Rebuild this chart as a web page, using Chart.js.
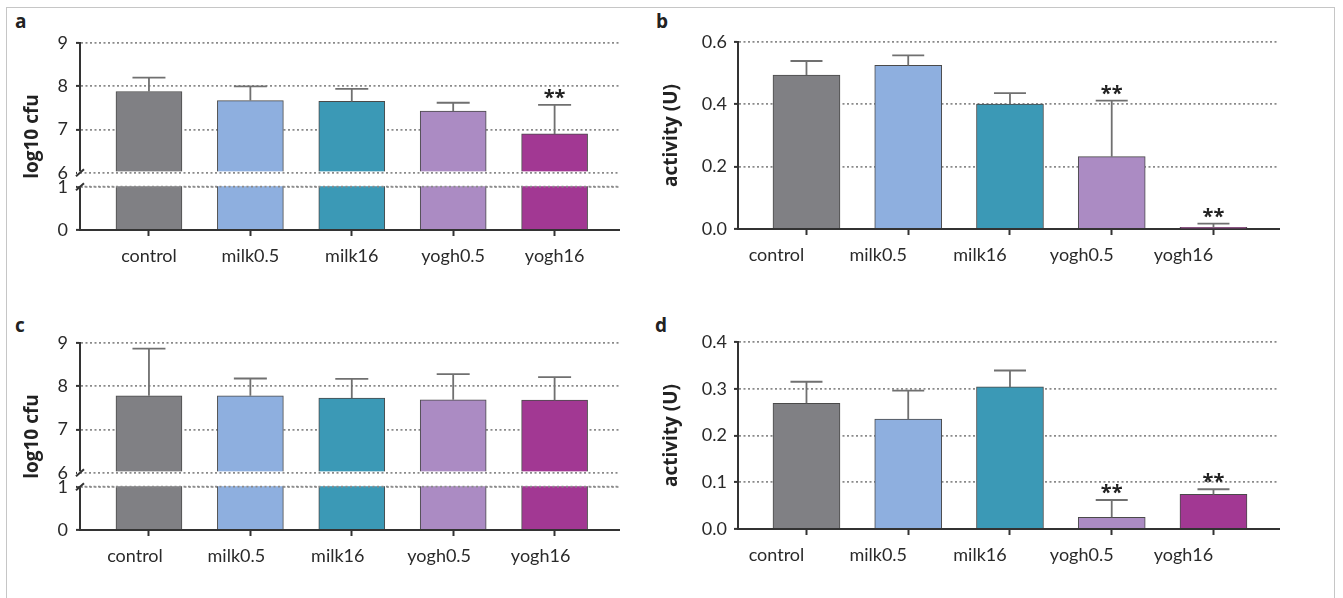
<!DOCTYPE html>
<html>
<head>
<meta charset="utf-8">
<script src="https://cdn.jsdelivr.net/npm/chart.js@4.4.1/dist/chart.umd.min.js"></script>
<style>
  html, body { margin: 0; padding: 0; background: #fff; }
  body { width: 1343px; height: 598px; position: relative; overflow: hidden; }
  #frame { position: absolute; left: 6px; top: 7px; width: 1327px; height: 640px; border: 1.5px solid #c6c6c6; border-bottom: none; }
  .panel { position: absolute; }
  .tag { position: absolute; font: bold 19px "Open Sans", sans-serif; color: #222; line-height: 19px; }
</style>
</head>
<body>
<div id="frame"></div>
<div class="tag" style="left:15px;top:12px">a</div>
<div class="tag" style="left:656px;top:12px">b</div>
<div class="tag" style="left:15px;top:316px">c</div>
<div class="tag" style="left:655px;top:316px">d</div>
<div class="panel" style="left:0;top:0"><canvas id="ca" width="640" height="295"></canvas></div>
<div class="panel" style="left:640px;top:0"><canvas id="cb" width="660" height="295"></canvas></div>
<div class="panel" style="left:0;top:300px"><canvas id="cc" width="640" height="295"></canvas></div>
<div class="panel" style="left:640px;top:300px"><canvas id="cd" width="660" height="295"></canvas></div>
<script>
const categories = ['control', 'milk0.5', 'milk16', 'yogh0.5', 'yogh16'];

// a: log10 cfu
const aMeans = [7.88, 7.67, 7.65, 7.43, 6.90];
const aErrs = [0.32, 0.33, 0.29, 0.19, 0.67];
const aStars = ['', '', '', '', '**'];

// b: activity (U)
const bMeans = [0.494, 0.525, 0.401, 0.232, 0.005];
const bErrs = [0.045, 0.032, 0.035, 0.180, 0.012];
const bStars = ['', '', '', '**', '**'];

// c: log10 cfu
const cMeans = [7.78, 7.78, 7.73, 7.69, 7.68];
const cErrs = [1.09, 0.40, 0.44, 0.59, 0.53];
const cStars = ['', '', '', '', ''];

// d: activity (U)
const dMeans = [0.269, 0.235, 0.304, 0.025, 0.074];
const dErrs = [0.046, 0.061, 0.035, 0.037, 0.011];
const dStars = ['', '', '', '**', '**'];

const cfuTicks = [0, 1, 6, 7, 8, 9];
const bTicks = [0, 0.2, 0.4, 0.6];
const dTicks = [0, 0.1, 0.2, 0.3, 0.4];

const barColors = ['#808084', '#8eafdf', '#3b99b6', '#ab8bc3', '#a23893'];
const tickFont = { family: 'Lato', size: 18 };
const titleFont = { family: 'Open Sans', size: 19, weight: 'bold' };

// broken y axis: 1..6 squeezed into a small gap
const GAP = 0.32;
function brk(v) {
  if (v <= 1) return v;
  if (v >= 6) return v - 5 + GAP;
  return 1 + (v - 1) / 5 * GAP;
}
function unbrk(t) {
  if (t <= 1) return t;
  if (t >= 1 + GAP) return t + 5 - GAP;
  return 1 + (t - 1) / GAP * 5;
}

const breakPlugin = {
  id: 'axisBreak',
  afterDatasetsDraw(chart, args, opts) {
    if (!opts.on) return;
    const { ctx, chartArea, scales: { y } } = chart;
    const yHi = y.getPixelForValue(brk(6));
    const yLo = y.getPixelForValue(brk(1));
    const ax = chartArea.left;
    ctx.save();
    ctx.fillStyle = '#fff';
    ctx.fillRect(ax - 3, yHi - 1.5, chartArea.right - ax + 6, yLo - yHi + 1);
    ctx.strokeStyle = '#8a8a8a';
    ctx.lineWidth = 1.8;
    ctx.setLineDash([2, 2.5]);
    [yHi, yLo].forEach(py => {
      ctx.beginPath(); ctx.moveTo(ax, py); ctx.lineTo(chartArea.right, py); ctx.stroke();
    });
    ctx.setLineDash([]);
    ctx.strokeStyle = '#333';
    ctx.lineWidth = 2;
    [yHi, yLo].forEach(py => {
      ctx.beginPath(); ctx.moveTo(ax - 4, py + 3.5); ctx.lineTo(ax + 4, py - 3.5); ctx.stroke();
    });
    ctx.restore();
  }
};

const errPlugin = {
  id: 'errBars',
  afterDatasetsDraw(chart, args, opts) {
    const { ctx, scales: { x, y } } = chart;
    const tf = opts.broken ? brk : v => v;
    ctx.save();
    opts.means.forEach((m, i) => {
      const px = x.getPixelForValue(i);
      const y0 = y.getPixelForValue(tf(m));
      const y1 = y.getPixelForValue(tf(m + opts.errs[i]));
      ctx.strokeStyle = '#707070';
      ctx.lineWidth = 1.8;
      ctx.beginPath();
      ctx.moveTo(px, y0); ctx.lineTo(px, y1);
      ctx.moveTo(px - opts.cap / 2, y1); ctx.lineTo(px + opts.cap / 2, y1);
      ctx.stroke();
      if (opts.stars[i]) {
        ctx.fillStyle = '#222';
        ctx.font = 'bold 20px "Open Sans"';
        ctx.textAlign = 'center';
        ctx.textBaseline = 'alphabetic';
        ctx.fillText(opts.stars[i], px, y1 - 1);
      }
    });
    ctx.restore();
  }
};

function panel(id, p) {
  const tf = p.broken ? brk : v => v;
  return new Chart(document.getElementById(id), {
    type: 'bar',
    data: {
      datasets: [{
        data: p.means.map((m, i) => ({ x: i, y: tf(m) })),
        backgroundColor: barColors,
        borderColor: '#4a4a4a',
        borderWidth: 1,
        barThickness: p.barWidth
      }]
    },
    options: {
      responsive: false,
      animation: false,
      layout: { padding: { left: 0, top: p.top, right: p.right, bottom: 0 } },
      plugins: {
        legend: { display: false },
        tooltip: { enabled: false },
        axisBreak: { on: p.broken },
        errBars: { broken: p.broken, means: p.means, errs: p.errs, stars: p.stars, cap: p.cap }
      },
      scales: {
        x: {
          type: 'linear',
          offset: false,
          min: p.xMin,
          max: p.xMax,
          afterBuildTicks: s => { s.ticks = categories.map((c, i) => ({ value: i })); },
          afterFit: s => { s.height = p.xHeight; },
          ticks: {
            callback: v => categories[v],
            font: tickFont, color: '#2a2a2a',
            padding: 9, labelOffset: p.labelShift,
            autoSkip: false, maxRotation: 0
          },
          grid: { offset: false, drawOnChartArea: false, drawTicks: true, tickLength: 6, tickColor: '#333', tickWidth: 2 },
          border: { color: '#333', width: 2 }
        },
        y: {
          min: 0,
          max: tf(p.ticks[p.ticks.length - 1]),
          afterBuildTicks: s => { s.ticks = p.ticks.map(v => ({ value: tf(v) })); },
          afterFit: s => { s.width = p.left; },
          ticks: {
            autoSkip: false,
            padding: p.tickPad,
            font: tickFont, color: '#2a2a2a',
            callback: v => p.broken ? String(Math.round(unbrk(v))) : v.toFixed(1)
          },
          grid: {
            color: c => (c.tick && c.tick.value === 0) ? 'rgba(0,0,0,0)' : '#8a8a8a',
            lineWidth: 1.8,
            drawTicks: true, tickLength: 4, tickColor: '#333', tickWidth: 2
          },
          border: { color: '#333', width: 2, dash: [2, 2.5] },
          title: {
            display: true, text: p.title, font: titleFont, color: '#222',
            padding: { top: p.titlePad, bottom: 0 }
          }
        }
      }
    },
    plugins: [breakPlugin, errPlugin]
  });
}

const cfuLayout = { broken: true, ticks: cfuTicks, title: 'log10 cfu', top: 43, right: 21, left: 80, xHeight: 65,
  xMin: -0.68, xMax: 4.635, barWidth: 66, cap: 33, tickPad: 8, titlePad: 21 };
const actLayout = { broken: false, title: 'activity (U)', top: 42, right: 21, left: 98, xHeight: 66,
  xMin: -0.673, xMax: 4.644, barWidth: 67, cap: 32, tickPad: 7, titlePad: 20 };

panel('ca', Object.assign({}, cfuLayout, { means: aMeans, errs: aErrs, stars: aStars, labelShift: 0 }));
panel('cb', Object.assign({}, actLayout, { ticks: bTicks, means: bMeans, errs: bErrs, stars: bStars, labelShift: -30 }));
panel('cc', Object.assign({}, cfuLayout, { means: cMeans, errs: cErrs, stars: cStars, labelShift: -14 }));
panel('cd', Object.assign({}, actLayout, { ticks: dTicks, means: dMeans, errs: dErrs, stars: dStars, labelShift: -30 }));
</script>
</body>
</html>
